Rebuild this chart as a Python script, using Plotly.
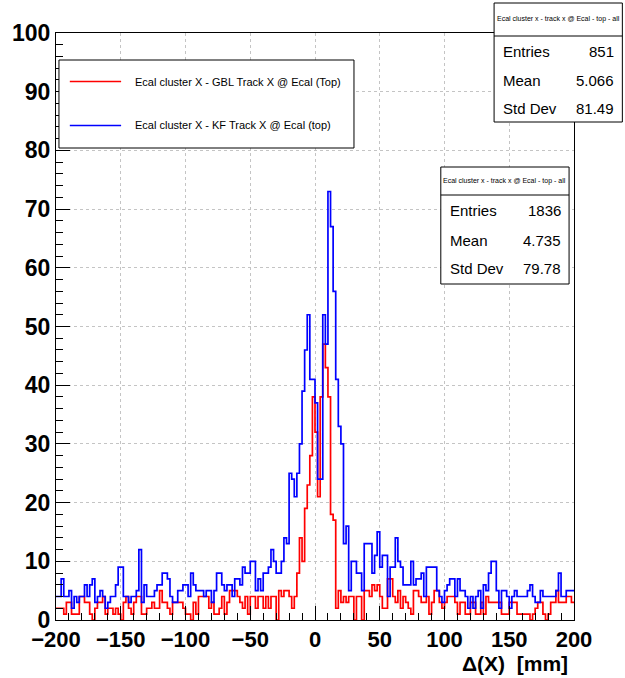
import plotly.graph_objects as go

# Binning: 200 bins of 2 mm from -200 to 200 mm
x_min, x_max, bin_w = -200, 200, 2
edges = list(range(x_min, x_max + bin_w, bin_w))

# Ecal cluster X - GBL track X @ Ecal (Top), counts per bin
gbl_counts = [
    2, 2, 2, 1, 3, 3, 1, 1, 1, 4,
    4, 3, 3, 1, 0, 2, 3, 3, 4, 1,
    2, 2, 1, 2, 1, 0, 3, 4, 2, 1,
    3, 4, 4, 1, 1, 2, 2, 3, 2, 2,
    5, 3, 3, 2, 1, 3, 3, 3, 3, 2,
    1, 1, 0, 3, 1, 4, 4, 4, 4, 2,
    3, 1, 1, 2, 4, 1, 3, 5, 5, 5,
    4, 3, 2, 4, 1, 4, 4, 2, 4, 4,
    2, 4, 2, 4, 4, 0, 5, 4, 5, 5,
    4, 2, 4, 8, 14, 10, 19, 23, 28, 38,
    32, 21, 38, 47, 43, 38, 18, 17, 2, 5,
    3, 4, 3, 4, 4, 0, 4, 4, 0, 5,
    5, 4, 6, 5, 6, 4, 2, 2, 7, 7,
    4, 3, 5, 2, 4, 3, 2, 1, 5, 5,
    4, 3, 3, 4, 1, 3, 5, 5, 3, 2,
    3, 4, 4, 4, 3, 1, 3, 3, 1, 1,
    3, 3, 1, 1, 3, 1, 4, 3, 3, 3,
    3, 3, 1, 1, 1, 3, 3, 3, 1, 1,
    1, 1, 1, 0, 1, 2, 3, 3, 1, 0,
    1, 3, 3, 5, 3, 3, 3, 4, 4, 3,
]

# Ecal cluster X - KF track X @ Ecal (top), counts per bin
kf_counts = [
    4, 4, 7, 4, 4, 5, 2, 4, 3, 4,
    4, 6, 4, 6, 7, 3, 4, 5, 4, 2,
    3, 4, 4, 6, 9, 9, 4, 4, 3, 4,
    4, 5, 12, 3, 6, 4, 4, 4, 5, 6,
    6, 8, 8, 7, 4, 3, 3, 5, 5, 6,
    6, 4, 8, 6, 5, 5, 5, 4, 5, 5,
    3, 5, 8, 8, 6, 5, 6, 6, 4, 7,
    7, 6, 9, 8, 8, 10, 10, 5, 7, 5,
    8, 8, 9, 12, 10, 8, 8, 10, 14, 13,
    25, 24, 21, 25, 30, 39, 46, 52, 41, 41,
    37, 24, 24, 52, 47, 73, 67, 56, 41, 33,
    30, 13, 16, 5, 10, 10, 8, 8, 5, 13,
    13, 13, 8, 11, 15, 9, 11, 11, 4, 9,
    9, 14, 10, 9, 6, 6, 6, 10, 6, 7,
    7, 8, 4, 9, 9, 9, 9, 5, 4, 3,
    5, 6, 7, 7, 4, 7, 5, 5, 4, 2,
    4, 2, 4, 5, 2, 6, 5, 8, 10, 10,
    5, 2, 5, 5, 4, 2, 4, 5, 4, 4,
    4, 4, 5, 6, 4, 3, 3, 5, 4, 4,
    4, 4, 4, 5, 8, 4, 4, 5, 5, 5,
]

legend_labels = [
    "Ecal cluster X - GBL Track X @ Ecal (Top)",
    "Ecal cluster X - KF Track X @ Ecal (top)",
]
series_colors = ["#ff0000", "#0000ff"]

stats_title = "Ecal cluster x - track x @ Ecal - top - all"
stats_rows = [
    [("Entries", "851"), ("Mean", "5.066"), ("Std Dev", "81.49")],
    [("Entries", "1836"), ("Mean", "4.735"), ("Std Dev", "79.78")],
]

y_ticks = list(range(0, 101, 10))
x_ticks = list(range(-200, 201, 50))

W, H = 625, 678
PL, PR, PT, PB = 49, 574, 33, 620   # plot frame in pixels
FONT = "Liberation Sans"


def fx(p):
    return (p - PL) / (PR - PL)


def fy(p):
    return (PB - p) / (PB - PT)


fig = go.Figure()

for counts, color, name in zip([gbl_counts, kf_counts], series_colors, legend_labels):
    fig.add_trace(go.Scatter(
        x=edges,
        y=counts + [counts[-1]],
        mode="lines",
        line=dict(shape="hv", color=color, width=1.7),
        name=name,
        showlegend=False,
        hoverinfo="skip",
    ))

shapes = []
annotations = []

# Legend box
lx0, lx1, ly0, ly1 = 52, 351, 60, 148
shapes.append(dict(type="rect", xref="paper", yref="paper",
                   x0=fx(lx0), x1=fx(lx1), y0=fy(ly1), y1=fy(ly0),
                   line=dict(color="#000000", width=1), fillcolor="#ffffff", layer="above"))
for row_y, color, label in zip([81.5, 125.5], series_colors, legend_labels):
    shapes.append(dict(type="line", xref="paper", yref="paper",
                       x0=fx(63), x1=fx(115), y0=fy(row_y), y1=fy(row_y),
                       line=dict(color=color, width=1.7), layer="above"))
    annotations.append(dict(xref="paper", yref="paper", x=fx(127), y=fy(row_y),
                            xanchor="left", yanchor="middle", showarrow=False,
                            text=label, font=dict(family=FONT, size=11, color="#000000")))

# Statistics boxes
stat_boxes = [
    dict(x0=493, x1=623, y0=3, y1=122, sep=36, rows=[51.5, 80.5, 108.5]),
    dict(x0=439, x1=569, y0=167, y1=284, sep=195, rows=[210.5, 240, 268.5]),
]
for box, rows in zip(stat_boxes, stats_rows):
    shapes.append(dict(type="rect", xref="paper", yref="paper",
                       x0=fx(box["x0"]), x1=fx(box["x1"]),
                       y0=fy(box["y1"]), y1=fy(box["y0"]),
                       line=dict(color="#000000", width=1), fillcolor="#ffffff", layer="above"))
    shapes.append(dict(type="line", xref="paper", yref="paper",
                       x0=fx(box["x0"]), x1=fx(box["x1"]),
                       y0=fy(box["sep"]), y1=fy(box["sep"]),
                       line=dict(color="#000000", width=1), layer="above"))
    annotations.append(dict(xref="paper", yref="paper",
                            x=fx((box["x0"] + box["x1"]) / 2), y=fy((box["y0"] + box["sep"]) / 2),
                            xanchor="center", yanchor="middle", showarrow=False,
                            text=stats_title, font=dict(family=FONT, size=7, color="#000000")))
    for (key, val), ry in zip(rows, box["rows"]):
        annotations.append(dict(xref="paper", yref="paper", x=fx(box["x0"] + 7), y=fy(ry),
                                xanchor="left", yanchor="middle", showarrow=False,
                                text=key, font=dict(family=FONT, size=15, color="#000000")))
        annotations.append(dict(xref="paper", yref="paper", x=fx(box["x1"] - 6), y=fy(ry),
                                xanchor="right", yanchor="middle", showarrow=False,
                                text=val, font=dict(family=FONT, size=15, color="#000000")))

# X axis title at the right end of the axis
annotations.append(dict(xref="paper", yref="paper", x=fx(PR - 4), y=fy(677),
                        xanchor="right", yanchor="bottom", showarrow=False,
                        text="Δ(X)  [mm]",
                        font=dict(family=FONT, size=21, color="#000000", weight="bold")))

axis_common = dict(
    showline=True, linecolor="#000000", linewidth=1, mirror=True,
    ticks="inside", tickcolor="#000000", tickwidth=1,
    showgrid=True, gridcolor="#c4c4c4", griddash="dot", gridwidth=1,
    zeroline=False,
)

fig.update_xaxes(
    range=[x_min, x_max], tickmode="array", tickvals=x_ticks,
    ticktext=[str(v).replace("-", "\u2212") for v in x_ticks],
    ticklen=14,
    tickfont=dict(family=FONT, size=22, color="#000000", weight="bold"),
    minor=dict(ticks="inside", ticklen=7, dtick=10, tick0=-200, tickcolor="#000000", showgrid=False),
    **axis_common,
)
fig.update_yaxes(
    range=[0, 100], tickmode="array", tickvals=y_ticks,
    ticklen=14,
    tickfont=dict(family=FONT, size=23, color="#000000", weight="bold"),
    minor=dict(ticks="inside", ticklen=7, dtick=2, tick0=0, tickcolor="#000000", showgrid=False),
    **axis_common,
)

fig.update_layout(
    width=W, height=H,
    margin=dict(l=PL, r=W - PR, t=PT, b=H - PB),
    paper_bgcolor="#ffffff", plot_bgcolor="#ffffff",
    shapes=shapes, annotations=annotations,
    showlegend=False,
)

fig.write_html("out.html")
